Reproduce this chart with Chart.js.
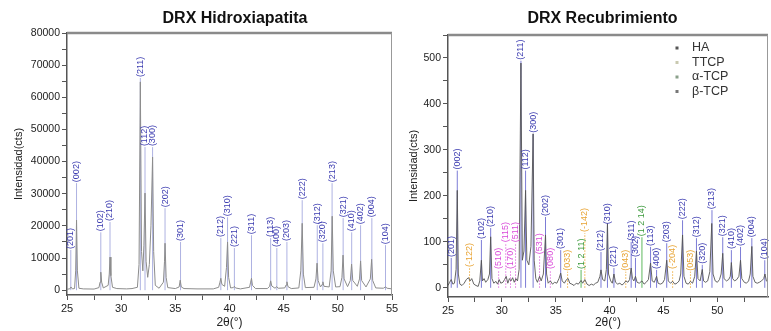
<!DOCTYPE html>
<html>
<head>
<meta charset="utf-8">
<script src="https://cdn.jsdelivr.net/npm/chart.js@4.4.1/dist/chart.umd.min.js"></script>
<style>
  html, body { margin: 0; padding: 0; background: #fff; }
  body { width: 771px; height: 331px; position: relative; overflow: hidden; }
  canvas { position: absolute; top: 0; }
  #haChart { left: 0; }
  #recChart { left: 400px; }
</style>
</head>
<body>
<canvas id="haChart" width="400" height="331"></canvas>
<canvas id="recChart" width="371" height="331"></canvas>
<script>
// --- DRX Hidroxiapatita: espectro (2θ, cuentas)
const haTheta = [25.0, 25.25, 25.37, 25.5, 25.7, 25.8, 25.88, 25.96, 26.1, 26.5, 27.5, 27.95, 28.05, 28.12, 28.2, 28.35,
  28.8, 28.9, 28.97, 29.05, 29.2, 29.6, 30.5, 31.0, 31.5, 31.65, 31.77, 31.88, 32.0, 32.1, 32.2, 32.3, 32.45, 32.6, 32.75,
  32.9, 33.0, 33.15, 33.5, 33.9, 34.0, 34.05, 34.15, 34.3, 35.0, 35.35, 35.45, 35.55, 35.8, 37.0, 38.5, 39.0, 39.12, 39.2,
  39.3, 39.55, 39.72, 39.82, 39.92, 40.1, 40.35, 40.45, 40.55, 41.0, 41.85, 41.95, 42.03, 42.12, 42.4, 43.5, 43.7, 43.8,
  43.9, 44.2, 44.36, 44.5, 45.1, 45.22, 45.3, 45.4, 45.7, 46.4, 46.58, 46.71, 46.82, 47.0, 47.8, 47.98, 48.08, 48.18,
  48.4, 48.55, 48.62, 48.72, 49.2, 49.38, 49.48, 49.58, 49.8, 50.2, 50.38, 50.48, 50.58, 50.9, 51.15, 51.27, 51.38, 51.8,
  52.0, 52.1, 52.2, 52.6, 53.0, 53.12, 53.22, 53.5, 54.2, 54.4, 54.55, 55.0];
const haCounts = [300, 400, 1000, 400, 500, 6000, 21800, 6000, 600, 400, 350, 800, 2500, 5600, 2500, 700,
  1500, 5000, 10300, 4500, 900, 500, 400, 500, 900, 8000, 64800, 12000, 6000, 14000, 30200, 9000, 4000, 8000, 20000,
  41400, 12000, 1500, 600, 2500, 9000, 14600, 4000, 800, 500, 1000, 3100, 1000, 500, 400, 400, 900, 2500, 3700,
  1800, 1200, 7000, 15000, 4000, 700, 800, 1200, 700, 400, 900, 2500, 3700, 1500, 500, 500, 1200, 2900,
  1300, 600, 1100, 600, 700, 1600, 2600, 1100, 500, 700, 6000, 20800, 5000, 800, 900, 3500, 8400, 3000,
  1000, 1800, 2600, 1200, 1000, 6000, 23000, 6000, 1000, 1100, 4000, 10900, 3500, 1100, 3000, 8100, 3000, 1200,
  3500, 9100, 3000, 1000, 3500, 9600, 3000, 700, 600, 1000, 600, 400];

// reflexiones HA (hkl, posición, altura de la línea)
const haHkl = ['(201)', '(002)', '(102)', '(210)', '(211)', '(112)', '(300)', '(202)', '(301)', '(212)', '(310)', '(221)',
  '(311)', '(113)', '(400)', '(203)', '(222)', '(312)', '(320)', '(213)', '(321)', '(410)', '(402)', '(004)', '(104)'];
const haHklPos = [25.35, 25.88, 28.12, 28.97, 31.77, 32.2, 32.9, 34.05, 35.48, 39.2, 39.82, 40.45,
  42.03, 43.8, 44.37, 45.3, 46.71, 48.1, 48.62, 49.47, 50.49, 51.28, 52.1, 53.14, 54.4];
const haHklTop = [12500, 33300, 18000, 21200, 66000, 44500, 44500, 25500, 15000, 16200, 22700, 13100,
  17100, 16200, 13100, 15000, 28000, 20200, 14600, 33300, 22400, 18000, 20200, 22400, 14000];

// --- DRX Recubrimiento: espectro
const recTheta = [25.0, 25.15, 25.3, 25.45, 25.6, 25.75, 25.86, 25.96, 26.1, 26.3, 26.5, 26.7, 26.9, 27.05, 27.2, 27.4,
  27.6, 27.8, 27.95, 28.1, 28.2, 28.35, 28.5, 28.7, 28.85, 28.96, 29.08, 29.25, 29.45, 29.6, 29.75, 29.9, 30.1, 30.25,
  30.4, 30.55, 30.7, 30.85, 31.0, 31.15, 31.3, 31.45, 31.6, 31.77, 31.9, 32.05, 32.2, 32.32, 32.5, 32.7, 32.9, 33.0,
  33.15, 33.3, 33.5, 33.65, 33.85, 34.05, 34.15, 34.3, 34.5, 34.7, 34.9, 35.1, 35.3, 35.46, 35.6, 35.8, 36.0, 36.15,
  36.3, 36.5, 36.7, 36.9, 37.1, 37.35, 37.5, 37.7, 37.9, 38.1, 38.3, 38.5, 38.7, 38.9, 39.1, 39.2, 39.35, 39.55, 39.7,
  39.8, 39.9, 40.1, 40.25, 40.4, 40.55, 40.75, 40.95, 41.15, 41.35, 41.5, 41.7, 41.85, 42.0, 42.12, 42.25, 42.4, 42.55,
  42.75, 43.0, 43.2, 43.4, 43.6, 43.8, 43.95, 44.15, 44.36, 44.5, 44.7, 44.9, 45.1, 45.3, 45.45, 45.65, 45.85, 46.05,
  46.25, 46.45, 46.6, 46.77, 46.9, 47.1, 47.3, 47.5, 47.7, 47.9, 48.06, 48.2, 48.4, 48.6, 48.72, 48.9, 49.1, 49.3,
  49.48, 49.6, 49.8, 50.0, 50.2, 50.35, 50.5, 50.62, 50.85, 51.05, 51.2, 51.3, 51.42, 51.6, 51.8, 52.0, 52.15, 52.27,
  52.5, 52.7, 52.9, 53.05, 53.2, 53.3, 53.5, 53.7, 53.9, 54.1, 54.3, 54.42, 54.55, 54.8, 55.0];
const recCounts = [5, 12, 18, 8, 10, 40, 212, 30, 8, 5, 10, 18, 22, 15, 20, 8,
  5, 3, 15, 60, 15, 20, 12, 18, 30, 111, 20, 10, 14, 8, 18, 10, 12, 18,
  25, 10, 20, 15, 22, 12, 20, 15, 40, 489, 60, 80, 212, 60, 50, 90, 335, 60,
  20, 12, 25, 15, 30, 115, 30, 10, 15, 8, 12, 10, 20, 32, 15, 10, 18, 20,
  10, 8, 5, 10, 8, 16, 10, 18, 8, 5, 8, 6, 10, 12, 25, 39, 18, 15, 40,
  140, 30, 15, 10, 30, 12, 8, 10, 6, 10, 15, 12, 18, 43, 20, 15, 25, 12,
  10, 15, 8, 12, 18, 54, 15, 12, 25, 10, 8, 10, 18, 60, 15, 10, 14, 8,
  10, 15, 30, 115, 25, 10, 8, 14, 10, 25, 80, 20, 15, 40, 15, 12, 15, 35,
  140, 30, 15, 12, 18, 30, 75, 20, 15, 18, 25, 55, 20, 15, 18, 25, 60, 20,
  12, 10, 15, 30, 90, 25, 12, 10, 12, 15, 20, 30, 15, 10, 8];

// reflexiones por fase
const recHaHkl = ['(201)', '(002)', '(102)', '(210)', '(211)', '(112)', '(300)', '(202)', '(301)', '(212)', '(310)', '(221)',
  '(311)', '(302)', '(113)', '(400)', '(203)', '(222)', '(312)', '(320)', '(213)', '(321)', '(410)', '(402)', '(004)', '(104)'];
const recHaPos = [25.3, 25.86, 28.1, 28.96, 31.77, 32.2, 32.9, 34.05, 35.46, 39.2, 39.8, 40.4,
  42.0, 42.4, 43.8, 44.36, 45.3, 46.77, 48.06, 48.6, 49.5, 50.5, 51.3, 52.15, 53.2, 54.4];
const recHaTop = [65, 255, 104, 130, 494, 255, 335, 154, 82, 78, 136, 43,
  100, 65, 89, 39, 97, 147, 108, 50, 169, 110, 82, 89, 108, 60];

const ttcpHkl = ['(-122)', '(033)', '(-142)', '(043)', '(-204)', '(053)'];
const ttcpPos = [27.0, 36.1, 37.7, 41.5, 45.85, 47.5];
const ttcpTop = [43, 35, 119, 35, 39, 35];

const alfaHkl = ['(1 2 11)', '(1 2 14)'];
const alfaPos = [37.35, 43.0];
const alfaTop = [39, 110];

const betaHkl = ['(510)', '(115)', '(170)', '(511)', '(531)', '(080)'];
const betaPos = [29.7, 30.36, 30.8, 31.27, 33.5, 34.5];
const betaTop = [39, 97, 39, 97, 71, 39];

const legendNames = ['HA', 'TTCP', 'α-TCP', 'β-TCP'];

const FONT = "'Liberation Sans', Arial, sans-serif";

function toPoints(xs, ys) {
    return xs.map((x, i) => ({ x: x, y: ys[i] }));
}

// líneas verticales desde 0 hasta la etiqueta
function sticks(pos, top) {
    const pts = [];
    pos.forEach((p, i) => {
        pts.push({ x: p, y: 0 }, { x: p, y: top[i] }, { x: p, y: null });
    });
    return pts;
}

// etiquetas hkl giradas + marco + título + leyenda
const decorPlugin = {
    id: 'decor',
    afterDatasetsDraw(chart, args, opts) {
        const ctx = chart.ctx;
        const xs = chart.scales.x, ys = chart.scales.y;
        const area = chart.chartArea;
        ctx.save();
        // etiquetas
        ctx.font = '9px ' + FONT;
        ctx.textAlign = 'left';
        ctx.textBaseline = 'middle';
        (opts.groups || []).forEach(g => {
            ctx.fillStyle = g.color;
            g.labels.forEach((lab, i) => {
                const px = xs.getPixelForValue(g.pos[i]);
                const py = ys.getPixelForValue(g.top[i]);
                ctx.save();
                ctx.translate(px, py - 1);
                ctx.rotate(-Math.PI / 2);
                ctx.fillText(lab, 0, 0);
                ctx.restore();
            });
        });
        // marco superior y derecho
        ctx.strokeStyle = '#8a8a8a';
        ctx.lineWidth = 2.5;
        ctx.beginPath();
        ctx.moveTo(area.left, area.top);
        ctx.lineTo(area.right, area.top);
        ctx.stroke();
        ctx.strokeStyle = '#999';
        ctx.lineWidth = 1;
        ctx.beginPath();
        ctx.moveTo(area.right - 0.5, area.top);
        ctx.lineTo(area.right - 0.5, area.bottom);
        ctx.stroke();
        // título
        ctx.fillStyle = '#111';
        ctx.font = 'bold 16px ' + FONT;
        ctx.textAlign = 'center';
        ctx.textBaseline = 'middle';
        ctx.fillText(opts.title, opts.titleX, 19);
        // leyenda
        if (opts.legend) {
            ctx.font = '12.5px ' + FONT;
            ctx.textAlign = 'left';
            opts.legend.names.forEach((n, i) => {
                const y = opts.legend.y + i * 14.5;
                ctx.fillStyle = opts.legend.colors[i];
                ctx.fillRect(opts.legend.x - 1.5, y - 1.5, 3, 3);
                ctx.fillStyle = '#333';
                ctx.fillText(n, opts.legend.x + 15, y);
            });
        }
        ctx.restore();
    }
};

function axisX(height, maxX) {
    return {
        type: 'linear', min: 25, max: maxX,
        border: { color: '#555', width: 1.5 },
        grid: { drawOnChartArea: false, drawTicks: true, tickLength: 5, color: '#555', lineWidth: 1 },
        afterBuildTicks(s) {
            const t = [];
            for (let v = 25; v <= s.max + 1e-9; v += 2.5) t.push({ value: v });
            s.ticks = t;
        },
        ticks: {
            autoSkip: false, maxRotation: 0, padding: 2,
            color: '#222', font: { size: 11, family: FONT },
            callback: v => (v % 5 === 0 ? v : '')
        },
        title: { display: true, text: '2θ(°)', color: '#222', font: { size: 12, family: FONT }, padding: { top: 0, bottom: 1 } },
        afterFit(s) { s.height = height; s.paddingLeft = 0; s.paddingRight = 0; }
    };
}

function axisY(min, max, minor, major, width, titlePad) {
    return {
        type: 'linear', min: min, max: max,
        border: { color: '#555', width: 1.5 },
        grid: { drawOnChartArea: false, drawTicks: true, tickLength: 5, color: '#555', lineWidth: 1 },
        afterBuildTicks(s) {
            const t = [];
            for (let v = Math.ceil(min / minor) * minor; v <= max; v += minor) t.push({ value: v });
            s.ticks = t;
        },
        ticks: {
            autoSkip: false, padding: 2,
            color: '#222', font: { size: 10.5, family: FONT },
            callback: v => (v % major === 0 ? v : '')
        },
        title: { display: true, text: 'Intensidad(cts)', color: '#222', font: { size: 11, family: FONT }, padding: { top: titlePad, bottom: 0 } },
        afterFit(s) { s.width = width; }
    };
}

// Gráfico 1: Hidroxiapatita
new Chart(document.getElementById('haChart').getContext('2d'), {
    type: 'line',
    data: {
        datasets: [
            { data: toPoints(haTheta, haCounts), borderColor: '#8c8c8c', borderWidth: 1, pointRadius: 0, order: 0 },
            { data: sticks(haHklPos, haHklTop), borderColor: '#aeb2e2', borderWidth: 1, pointRadius: 0, order: 1 }
        ]
    },
    options: {
        responsive: false, animation: false, devicePixelRatio: 1,
        layout: { padding: { top: 33, right: 8, left: 0, bottom: 0 } },
        scales: { x: axisX(36, 55), y: axisY(-1500, 80000, 5000, 10000, 67, 12) },
        plugins: {
            legend: { display: false }, tooltip: { enabled: false },
            decor: {
                title: 'DRX Hidroxiapatita', titleX: 235,
                groups: [{ color: '#3b3bb0', labels: haHkl, pos: haHklPos, top: haHklTop }]
            }
        }
    },
    plugins: [decorPlugin]
});

// Gráfico 2: Recubrimiento
new Chart(document.getElementById('recChart').getContext('2d'), {
    type: 'line',
    data: {
        datasets: [
            { data: toPoints(recTheta, recCounts), borderColor: '#555', borderWidth: 0.9, pointRadius: 0, order: 0 },
            { data: sticks(recHaPos, recHaTop), borderColor: '#7c7cd6', borderWidth: 1, pointRadius: 0, order: 1 },
            { data: sticks(ttcpPos, ttcpTop), borderColor: '#efb24a', borderWidth: 1, borderDash: [1.5, 1.5], pointRadius: 0, order: 1 },
            { data: sticks(alfaPos, alfaTop), borderColor: '#5db85d', borderWidth: 1, pointRadius: 0, order: 1 },
            { data: sticks(betaPos, betaTop), borderColor: '#e27ae2', borderWidth: 1, borderDash: [1.5, 1.5], pointRadius: 0, order: 1 }
        ]
    },
    options: {
        responsive: false, animation: false, devicePixelRatio: 1,
        layout: { padding: { top: 35, right: 3, left: 0, bottom: 0 } },
        scales: { x: axisX(34, 54.7), y: axisY(-20, 550, 50, 100, 48, 7) },
        plugins: {
            legend: { display: false }, tooltip: { enabled: false },
            decor: {
                title: 'DRX Recubrimiento', titleX: 202.5,
                groups: [
                    { color: '#3b3bb0', labels: recHaHkl, pos: recHaPos, top: recHaTop },
                    { color: '#e8a435', labels: ttcpHkl, pos: ttcpPos, top: ttcpTop },
                    { color: '#3d9a3d', labels: alfaHkl, pos: alfaPos, top: alfaTop },
                    { color: '#d94ad9', labels: betaHkl, pos: betaPos, top: betaTop }
                ],
                legend: { names: legendNames, colors: ['#555', '#c9c9b0', '#8aa08a', '#777'], x: 277, y: 48 }
            }
        }
    },
    plugins: [decorPlugin]
});
</script>
</body>
</html>
